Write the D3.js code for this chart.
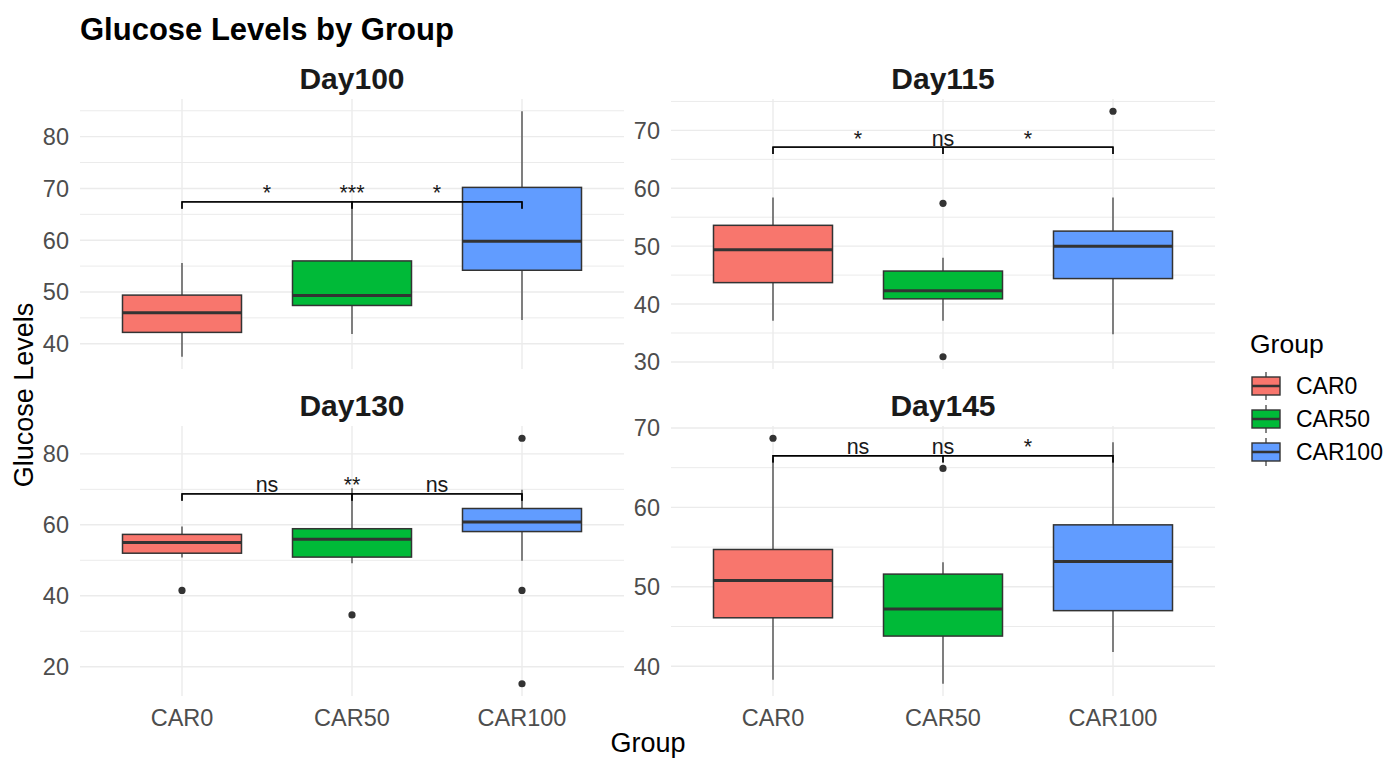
<!DOCTYPE html>
<html>
<head>
<meta charset="utf-8">
<script src="https://cdn.jsdelivr.net/npm/d3@7"></script>
<style>
  body { margin: 0; background: #fff; }
  text { font-family: "Liberation Sans", Arial, sans-serif; }
</style>
</head>
<body>
<div id="chart"></div>
<script>
var width = 1386,
    height = 758;

// data
var days = ["Day100", "Day115", "Day130", "Day145"];
var groups = ["CAR0", "CAR50", "CAR100"];
var colors = ["#F8766D", "#00BA38", "#619CFF"];

var whiskerLow  = [[37.5, 41.9, 44.6], [37.1, 37.1, 34.8], [50.8, 49.2, 49.9], [38.3, 37.8, 41.8]];
var q1          = [[42.2, 47.4, 54.2], [43.7, 40.9, 44.4], [52.0, 50.9, 58.1], [46.1, 43.8, 47.0]];
var medians     = [[46.0, 49.3, 59.8], [49.4, 42.3, 50.0], [55.0, 55.9, 60.8], [50.8, 47.2, 53.2]];
var q3          = [[49.4, 56.0, 70.2], [53.6, 45.7, 52.6], [57.3, 58.9, 64.6], [54.7, 51.6, 57.8]];
var whiskerHigh = [[55.6, 67.2, 84.9], [58.4, 48.0, 58.4], [59.5, 70.3, 69.9], [66.2, 53.1, 68.2]];
var outliers    = [[[], [], []], [[], [30.9, 57.4], [73.3]], [[41.5], [34.6], [15.2, 41.5, 84.4]], [[68.7], [64.9], []]];

var yTicks = [[40, 50, 60, 70, 80], [30, 40, 50, 60, 70], [20, 40, 60, 80], [40, 50, 60, 70]];

// significance labels: CAR0 vs CAR50, CAR0 vs CAR100, CAR50 vs CAR100
var comparisons = [[0, 1], [0, 2], [1, 2]];
var signifLabels = [["*", "***", "*"], ["*", "ns", "*"], ["ns", "**", "ns"], ["ns", "ns", "*"]];
var bracketY = [67.4, 67.1, 68.7, 66.5];

var panelX = [80, 671],
    panelY = [99, 426],
    panelW = 544,
    panelH = 270;

var svg = d3.select("#chart")
    .append("svg")
    .attr("width", width)
    .attr("height", height);

// title
svg.append("text")
    .attr("x", 80)
    .attr("y", 40)
    .style("font-size", "31px")
    .style("font-weight", "bold")
    .text("Glucose Levels by Group");

days.forEach(function(day, d) {
    var col = d % 2, row = Math.floor(d / 2);
    var x0 = panelX[col], y0 = panelY[row];

    var g = svg.append("g")
        .attr("transform", "translate(" + x0 + "," + y0 + ")");

    var x = d3.scalePoint()
        .domain(groups)
        .range([0, panelW])
        .padding(0.6);

    var all = [];
    groups.forEach(function(gr, i) {
        all.push(whiskerLow[d][i], whiskerHigh[d][i]);
        outliers[d][i].forEach(function(v) { all.push(v); });
    });
    var lo = d3.min(all), hi = d3.max(all), pad = (hi - lo) * 0.05;

    var y = d3.scaleLinear()
        .domain([lo - pad, hi + pad])
        .range([panelH, 0]);

    // minor grid
    var t = yTicks[d], step = t[1] - t[0];
    var minor = [];
    for (var m = t[0] - step / 2; m <= hi + pad; m += step) {
        if (m >= lo - pad) minor.push(m);
    }
    g.selectAll(".minor")
        .data(minor)
        .enter().append("line")
        .attr("x1", 0).attr("x2", panelW)
        .attr("y1", function(v) { return y(v); })
        .attr("y2", function(v) { return y(v); })
        .style("stroke", "#EBEBEB")
        .style("stroke-width", 1);

    // major grid
    g.selectAll(".major")
        .data(t)
        .enter().append("line")
        .attr("x1", 0).attr("x2", panelW)
        .attr("y1", function(v) { return y(v); })
        .attr("y2", function(v) { return y(v); })
        .style("stroke", "#EBEBEB")
        .style("stroke-width", 1.4);

    g.selectAll(".vgrid")
        .data(groups)
        .enter().append("line")
        .attr("x1", function(v) { return x(v); })
        .attr("x2", function(v) { return x(v); })
        .attr("y1", 0).attr("y2", panelH)
        .style("stroke", "#EBEBEB")
        .style("stroke-width", 1.4);

    // y axis labels
    g.selectAll(".ytick")
        .data(t)
        .enter().append("text")
        .attr("x", -11)
        .attr("y", function(v) { return y(v); })
        .attr("dy", "0.36em")
        .attr("text-anchor", "end")
        .style("font-size", "23.5px")
        .style("fill", "#4D4D4D")
        .text(function(v) { return v; });

    // x axis labels, bottom row only
    if (row == 1) {
        g.selectAll(".xtick")
            .data(groups)
            .enter().append("text")
            .attr("x", function(v) { return x(v); })
            .attr("y", panelH + 30)
            .attr("text-anchor", "middle")
            .style("font-size", "23.5px")
            .style("fill", "#4D4D4D")
            .text(function(v) { return v; });
    }

    // strip
    g.append("text")
        .attr("x", panelW / 2)
        .attr("y", -10)
        .attr("text-anchor", "middle")
        .style("font-size", "30px")
        .style("font-weight", "bold")
        .style("fill", "#1A1A1A")
        .text(day);

    var bw = x.step() * 0.7;

    groups.forEach(function(gr, i) {
        var cx = x(gr);
        g.append("line")
            .attr("x1", cx).attr("x2", cx)
            .attr("y1", y(whiskerLow[d][i])).attr("y2", y(q1[d][i]))
            .style("stroke", "#333333").style("stroke-width", 1.2);
        g.append("line")
            .attr("x1", cx).attr("x2", cx)
            .attr("y1", y(q3[d][i])).attr("y2", y(whiskerHigh[d][i]))
            .style("stroke", "#333333").style("stroke-width", 1.2);
        g.append("rect")
            .attr("x", cx - bw / 2)
            .attr("y", y(q3[d][i]))
            .attr("width", bw)
            .attr("height", y(q1[d][i]) - y(q3[d][i]))
            .style("fill", colors[i])
            .style("stroke", "#333333")
            .style("stroke-width", 1.5);
        g.append("line")
            .attr("x1", cx - bw / 2).attr("x2", cx + bw / 2)
            .attr("y1", y(medians[d][i])).attr("y2", y(medians[d][i]))
            .style("stroke", "#333333").style("stroke-width", 3);
        g.selectAll(".out" + i)
            .data(outliers[d][i])
            .enter().append("circle")
            .attr("cx", cx)
            .attr("cy", function(v) { return y(v); })
            .attr("r", 3.6)
            .style("fill", "#333333");
    });

    // significance brackets
    var by = y(bracketY[d]), tip = panelH * 0.025;
    comparisons.forEach(function(c, k) {
        var xa = x(groups[c[0]]), xb = x(groups[c[1]]);
        g.append("path")
            .attr("d", "M" + xa + "," + (by + tip) + "V" + by + "H" + xb + "V" + (by + tip))
            .style("fill", "none")
            .style("stroke", "#000")
            .style("stroke-width", 1.3);
        g.append("text")
            .attr("x", (xa + xb) / 2)
            .attr("y", by - 1.5)
            .attr("text-anchor", "middle")
            .style("font-size", "21.5px")
            .style("fill", "#1A1A1A")
            .text(signifLabels[d][k]);
    });
});

// axis titles
svg.append("text")
    .attr("x", 648)
    .attr("y", 752)
    .attr("text-anchor", "middle")
    .style("font-size", "27px")
    .text("Group");

svg.append("text")
    .attr("transform", "translate(33,395) rotate(-90)")
    .attr("text-anchor", "middle")
    .style("font-size", "27px")
    .text("Glucose Levels");

// legend
var legend = svg.append("g")
    .attr("transform", "translate(1250,353)");

legend.append("text")
    .attr("x", 0)
    .attr("y", 0)
    .style("font-size", "26.5px")
    .text("Group");

groups.forEach(function(gr, i) {
    var ky = 33 + i * 33;
    var k = legend.append("g").attr("transform", "translate(2," + ky + ")");
    k.append("line")
        .attr("x1", 14).attr("x2", 14).attr("y1", -14).attr("y2", 14)
        .style("stroke", "#333333").style("stroke-width", 1.2);
    k.append("rect")
        .attr("x", 0).attr("y", -9)
        .attr("width", 28).attr("height", 18)
        .style("fill", colors[i])
        .style("stroke", "#333333")
        .style("stroke-width", 1.4);
    k.append("line")
        .attr("x1", 0).attr("x2", 28).attr("y1", 0).attr("y2", 0)
        .style("stroke", "#333333").style("stroke-width", 2.5);
    legend.append("text")
        .attr("x", 46)
        .attr("y", ky + 8)
        .style("font-size", "23px")
        .text(gr);
});
</script>
</body>
</html>
